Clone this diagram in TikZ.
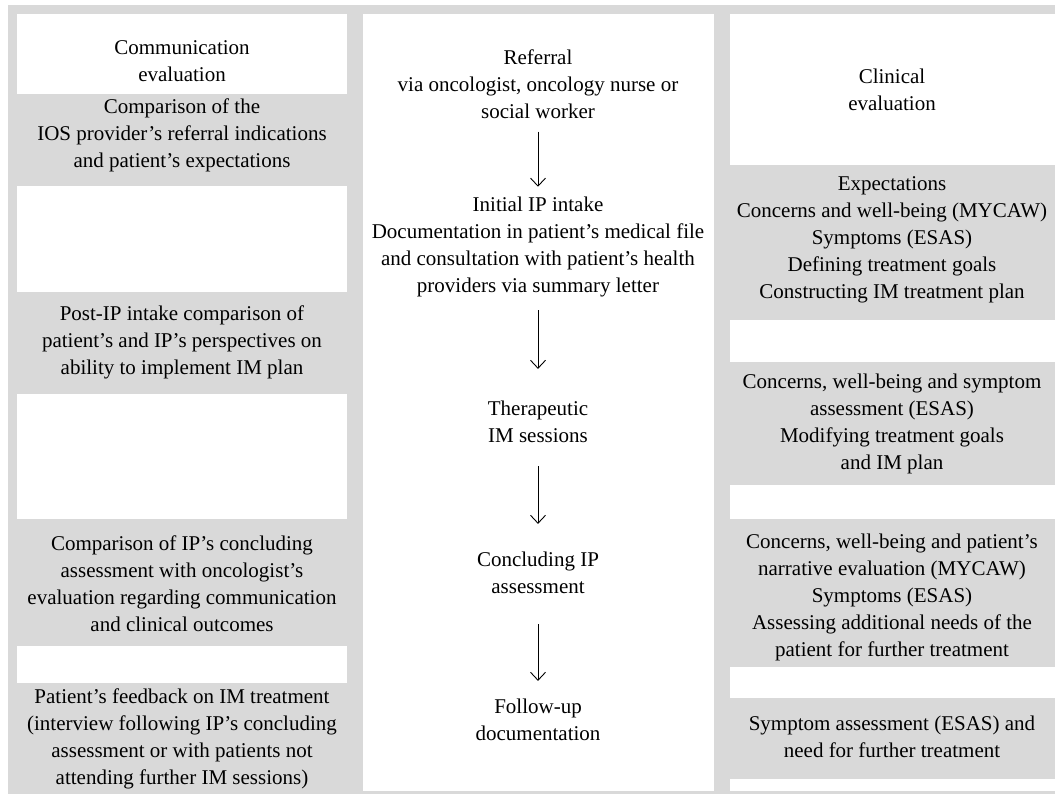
\documentclass[tikz,border=0pt]{standalone}
\usepackage{fontspec}
\setmainfont{Liberation Serif}
\usetikzlibrary{arrows.meta}
\definecolor{panelgray}{RGB}{217,217,217}
\tikzset{
  txt/.style={align=center, font=\fontsize{21}{27}\selectfont, inner sep=2pt, text=black},
  arr/.style={-{Straight Barb[length=8pt,width=15pt]}, line width=0.9pt},
  whitebox/.style={fill=white, draw=none}
}
\begin{document}
\begin{tikzpicture}[x=1pt,y=-1pt]
\useasboundingbox (0,0) rectangle (1055,794);
\fill[white] (0,0) rectangle (1055,794);
\fill[panelgray] (8,5) rectangle (1055,794);
% left column white strips
\fill[whitebox] (17,14) rectangle (347,94);
\fill[whitebox] (17,186) rectangle (347,292);
\fill[whitebox] (17,394) rectangle (347,519);
\fill[whitebox] (17,646) rectangle (347,683);
% middle column
\fill[whitebox] (363,14) rectangle (714,791);
% right column white strips
\fill[whitebox] (730,14) rectangle (1055,165);
\fill[whitebox] (730,320) rectangle (1055,362);
\fill[whitebox] (730,485) rectangle (1055,519);
\fill[whitebox] (730,667) rectangle (1055,698);
\fill[whitebox] (730,779) rectangle (1055,791);

% left column texts
\node[txt] (L1) at (182,61) {Communication\\evaluation};
\node[txt] (L2) at (182,135) {Comparison of the\\IOS provider’s referral indications\\and patient’s expectations};
\node[txt] (L3) at (182,342) {Post-IP intake comparison of\\patient’s and IP’s perspectives on\\ability to implement IM plan};
\node[txt] (L4) at (182,584) {Comparison of IP’s concluding\\assessment with oncologist’s\\evaluation regarding communication\\and clinical outcomes};
\node[txt] (L5) at (182,739) {Patient’s feedback on IM treatment\\(interview following IP’s concluding\\assessment or with patients not\\attending further IM sessions)};

% middle column texts
\node[txt] (M1) at (538,84) {Referral\\via oncologist, oncology nurse or\\social worker};
\node[txt] (M2) at (538,247) {Initial IP intake\\Documentation in patient’s medical file\\and consultation with patient’s health\\providers via summary letter};
\node[txt] (M3) at (538,422) {Therapeutic\\IM sessions};
\node[txt] (M4) at (538,573) {Concluding IP\\assessment};
\node[txt] (M5) at (538,720) {Follow-up\\documentation};

% right column texts
\node[txt] (R1) at (892,90) {Clinical\\evaluation};
\node[txt] (R2) at (892,240) {Expectations\\Concerns and well-being (MYCAW)\\Symptoms (ESAS)\\Defining treatment goals\\Constructing IM treatment plan};
\node[txt] (R3) at (892,424) {Concerns, well-being and symptom\\assessment (ESAS)\\Modifying treatment goals\\and IM plan};
\node[txt] (R4) at (892,597) {Concerns, well-being and patient’s\\narrative evaluation (MYCAW)\\Symptoms (ESAS)\\Assessing additional needs of the\\patient for further treatment};
\node[txt] (R5) at (892,737) {Symptom assessment (ESAS) and\\need for further treatment};

% arrows
\draw[arr, shorten <=11pt, shorten >=8pt] (M1) -- (M2);
\draw[arr, shorten <=11pt, shorten >=30pt] (M2) -- (M3);
\draw[arr, shorten <=21pt, shorten >=26pt] (M3) -- (M4);
\draw[arr, shorten <=28pt, shorten >=16pt] (M4) -- (M5);
\end{tikzpicture}
\end{document}
